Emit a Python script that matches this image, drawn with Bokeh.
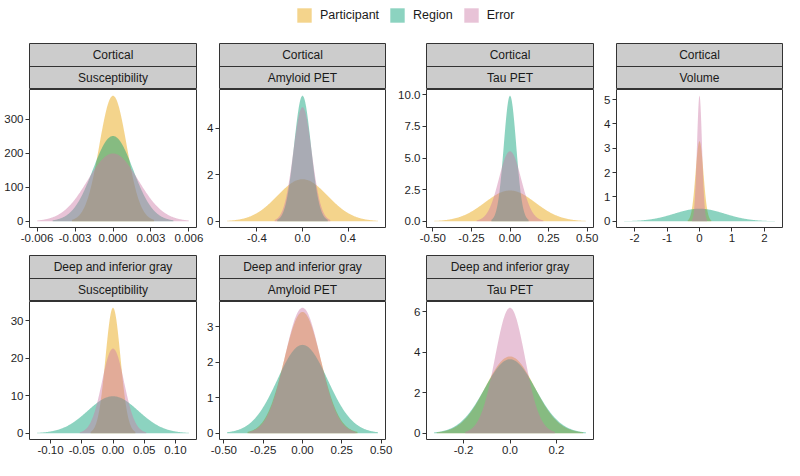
import numpy as np
from bokeh.plotting import figure
from bokeh.layouts import column, row
from bokeh.models import (Range1d, FixedTicker, PrintfTickFormatter, Span, Label,
                          Legend, LegendItem)
from bokeh.embed import file_html
from bokeh.resources import INLINE

# ---------------- data ----------------
series = ["Participant", "Region", "Error"]
colors = ["#E69F00", "#009E73", "#CC79A7"]

regions = ["Cortical", "Cortical", "Cortical", "Cortical",
           "Deep and inferior gray", "Deep and inferior gray", "Deep and inferior gray"]
measures = ["Susceptibility", "Amyloid PET", "Tau PET", "Volume",
            "Susceptibility", "Amyloid PET", "Tau PET"]

# standard deviation of each normal density
sd_participant = [0.00108, 0.2210, 0.1640, 0.1212, 0.01194, 0.1166, 0.1050]
sd_region      = [0.00159, 0.0740, 0.0402, 0.7750, 0.04050, 0.1600, 0.1090]
sd_error       = [0.00200, 0.0814, 0.0721, 0.0773, 0.01770, 0.1127, 0.0643]

x_ticks = [[-0.006, -0.003, 0, 0.003, 0.006], [-0.4, 0, 0.4], [-0.5, -0.25, 0, 0.25, 0.5],
           [-2, -1, 0, 1, 2], [-0.1, -0.05, 0, 0.05, 0.1], [-0.5, -0.25, 0, 0.25, 0.5],
           [-0.2, 0, 0.2]]
x_formats = ["%.3f", "%.1f", "%.2f", "%d", "%.2f", "%.2f", "%.1f"]
y_ticks = [[0, 100, 200, 300], [0, 2, 4], [0, 2.5, 5, 7.5, 10], [0, 1, 2, 3, 4, 5],
           [0, 10, 20, 30], [0, 1, 2, 3], [0, 2, 4, 6]]
y_formats = ["%d", "%d", "%.1f", "%d", "%d", "%d", "%d"]

# ---------------- styling / geometry ----------------
ALPHA = 0.45
FONT = "Liberation Sans"
FW = 167          # frame width
FH = 138          # frame height
SH = 47           # strip block height
LEFT = [29, 14, 37, 14, 29, 14, 29]
RIGHT = [8, 4, 8, 2, 8, 12, 8]
BOTTOM = [27, 27, 27, 27, 21, 21, 21]
DARK = "#333333"


def make_panel(i):
    sds = [sd_participant[i], sd_region[i], sd_error[i]]
    peaks = [1.0 / (s * np.sqrt(2 * np.pi)) for s in sds]
    xm = 3 * max(sds)
    ym = max(peaks)
    p = figure(width=LEFT[i] + FW + RIGHT[i], height=FH + BOTTOM[i],
               x_range=Range1d(-1.1 * xm, 1.1 * xm),
               y_range=Range1d(-0.05 * ym, 1.05 * ym),
               output_backend="svg", toolbar_location=None,
               min_border_left=LEFT[i], min_border_right=RIGHT[i],
               min_border_top=0, min_border_bottom=BOTTOM[i])
    for s, c in zip(sds, colors):
        x = np.linspace(-3 * s, 3 * s, 301)
        y = np.exp(-0.5 * (x / s) ** 2) / (s * np.sqrt(2 * np.pi))
        p.varea(x=x, y1=0, y2=y, fill_color=c, fill_alpha=ALPHA)
    p.grid.visible = False
    p.xaxis.ticker = FixedTicker(ticks=x_ticks[i])
    p.xaxis.formatter = PrintfTickFormatter(format=x_formats[i])
    p.yaxis.ticker = FixedTicker(ticks=y_ticks[i])
    p.yaxis.formatter = PrintfTickFormatter(format=y_formats[i])
    for ax in (p.xaxis[0], p.yaxis[0]):
        ax.axis_line_color = None
        ax.major_tick_in = 0
        ax.major_tick_out = 4
        ax.major_tick_line_color = DARK
        ax.minor_tick_line_color = None
        ax.major_label_text_font = FONT
        ax.major_label_text_font_size = "11.5px"
        ax.major_label_text_color = "#1F1F1F"
        ax.major_label_standoff = 2
    p.outline_line_color = DARK
    p.outline_line_width = 1
    p.outline_line_alpha = 1
    return p


def make_strip(i):
    s = figure(width=LEFT[i] + FW + RIGHT[i], height=SH,
               x_range=Range1d(0, 1), y_range=Range1d(0, 2),
               x_axis_location=None, y_axis_location=None,
               output_backend="svg", toolbar_location=None,
               min_border_left=LEFT[i], min_border_right=RIGHT[i],
               min_border_top=1, min_border_bottom=0)
    s.grid.visible = False
    s.background_fill_color = "#CCCCCC"
    s.outline_line_color = DARK
    s.outline_line_width = 1
    s.outline_line_alpha = 1
    s.add_layout(Span(location=1, dimension="width", line_color=DARK, line_width=1))
    for yy, txt in ((1.5, regions[i]), (0.5, measures[i])):
        s.add_layout(Label(x=0.5, y=yy, text=txt, text_align="center",
                           text_baseline="middle", text_font=FONT,
                           text_font_size="12px", text_color="#1A1A1A"))
    return s


# legend (keys only; the glyphs carry no visible data)
lg = figure(width=784, height=42, x_range=Range1d(0, 1), y_range=Range1d(0, 1),
            x_axis_location=None, y_axis_location=None,
            output_backend="svg", toolbar_location=None, min_border=0)
lg.grid.visible = False
lg.outline_line_color = None
items = []
for name, c in zip(series, colors):
    r = lg.quad(left=[np.nan], right=[np.nan], top=[np.nan], bottom=[np.nan],
                fill_color=c, fill_alpha=ALPHA, line_color=None)
    items.append(LegendItem(label=name, renderers=[r]))
leg = Legend(items=items, orientation="horizontal", location=(295, 18),
             glyph_width=18, glyph_height=18, label_standoff=7, spacing=9,
             padding=2, margin=0, border_line_color=None, background_fill_alpha=0,
             label_text_font=FONT, label_text_font_size="12.5px",
             label_text_color="#1A1A1A")
lg.add_layout(leg)

cols = [column(make_strip(i), make_panel(i), spacing=0) for i in range(7)]
layout = column(lg, row(*cols[:4], spacing=0), row(*cols[4:], spacing=0), spacing=0)

open("out.html", "w").write(file_html(layout, INLINE))
